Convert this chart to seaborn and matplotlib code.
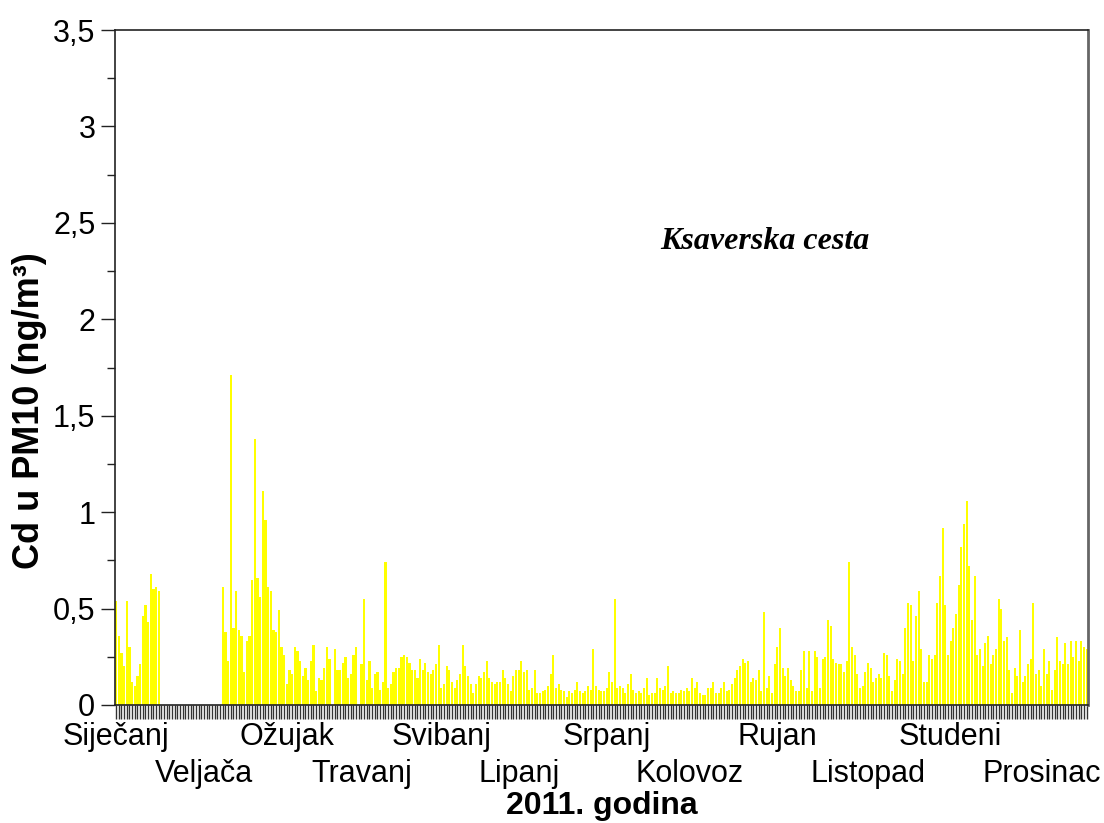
import numpy as np
import pandas as pd
import matplotlib.pyplot as plt
import seaborn as sns

# Dnevne koncentracije Cd u PM10 (ng/m3), Ksaverska cesta 2011. (None = nema mjerenja)
sijecanj = [0.54, 0.36, 0.27, 0.20, 0.54, 0.30, 0.12, 0.10, 0.15, 0.21, 0.46, 0.52, 0.43, 0.68, 0.60, 0.61, 0.59,
            None, None, None, None, None, None, None, None, None, None, None, None, None, None]
veljaca = [None, None, None, None, None, None, None, None, None,
           0.61, 0.38, 0.23, 1.71, 0.40, 0.59, 0.39, 0.36, 0.17, 0.33, 0.36, 0.65, 1.38, 0.66, 0.56, 1.11, 0.96, 0.61, 0.59]
ozujak = [0.39, 0.38, 0.49, 0.30, 0.26, 0.11, 0.18, 0.16, 0.30, 0.28, 0.23, 0.15, 0.19, 0.13, 0.23,
          0.31, 0.07, 0.14, 0.13, 0.19, 0.30, 0.24, 0.0, 0.29, 0.18, 0.18, 0.22, 0.25, 0.14, 0.16, 0.26]
travanj = [0.30, 0.0, 0.21, 0.55, 0.13, 0.23, 0.09, 0.16, 0.17, 0.08, 0.12, 0.74, 0.09, 0.11, 0.17, 0.19, 0.19, 0.25, 0.26, 0.25,
           0.22, 0.18, 0.18, 0.14, 0.24, 0.18, 0.22, 0.17, 0.16, 0.18]
svibanj = [0.21, 0.31, 0.09, 0.11, 0.20, 0.18, 0.12, 0.09, 0.13, 0.16, 0.31, 0.20, 0.15, 0.11, 0.06, 0.11, 0.15, 0.14,
           0.17, 0.23, 0.14, 0.12, 0.11, 0.12, 0.12, 0.18, 0.14, 0.11, 0.07, 0.15, 0.18]
lipanj = [0.18, 0.23, 0.17, 0.18, 0.08, 0.09, 0.18, 0.06, 0.06, 0.07, 0.08, 0.10, 0.16, 0.26, 0.09,
          0.11, 0.08, 0.07, 0.04, 0.07, 0.06, 0.08, 0.12, 0.07, 0.06, 0.07, 0.10, 0.08, 0.29, 0.10]
srpanj = [0.08, 0.07, 0.07, 0.09, 0.17, 0.12, 0.55, 0.09, 0.10, 0.09, 0.06, 0.11, 0.16, 0.08, 0.06, 0.07,
          0.06, 0.09, 0.14, 0.05, 0.06, 0.06, 0.14, 0.09, 0.08, 0.10, 0.20, 0.06, 0.07, 0.06, 0.06]
kolovoz = [0.08, 0.07, 0.09, 0.07, 0.14, 0.09, 0.12, 0.06, 0.05, 0.05, 0.09, 0.09, 0.12, 0.06, 0.06, 0.09,
           0.12, 0.07, 0.08, 0.11, 0.14, 0.18, 0.20, 0.24, 0.22, 0.23, 0.12, 0.14, 0.13, 0.18, 0.07]
rujan = [0.48, 0.09, 0.15, 0.06, 0.21, 0.30, 0.40, 0.19, 0.15, 0.19, 0.13, 0.10, 0.07, 0.07, 0.18,
         0.28, 0.09, 0.28, 0.07, 0.28, 0.25, 0.09, 0.24, 0.25, 0.44, 0.41, 0.24, 0.22, 0.21, 0.21]
listopad = [0.17, 0.23, 0.74, 0.30, 0.26, 0.16, 0.09, 0.10, 0.17, 0.22, 0.19, 0.12, 0.14, 0.16, 0.14, 0.27,
            0.26, 0.15, 0.07, 0.13, 0.24, 0.23, 0.16, 0.40, 0.53, 0.52, 0.23, 0.46, 0.59, 0.29, 0.12]
studeni = [0.12, 0.26, 0.24, 0.26, 0.53, 0.67, 0.92, 0.52, 0.26, 0.33, 0.40, 0.47, 0.62, 0.82, 0.94,
           1.06, 0.72, 0.44, 0.67, 0.26, 0.29, 0.20, 0.32, 0.36, 0.21, 0.26, 0.29, 0.55, 0.50, 0.33]
prosinac = [0.35, 0.18, 0.06, 0.19, 0.15, 0.39, 0.12, 0.15, 0.21, 0.24, 0.53, 0.16, 0.18, 0.10, 0.29, 0.16,
            0.23, 0.08, 0.18, 0.35, 0.23, 0.21, 0.32, 0.21, 0.33, 0.25, 0.33, 0.23, 0.33, 0.30, 0.29]

mjeseci = ["Siječanj", "Veljača", "Ožujak", "Travanj", "Svibanj", "Lipanj",
           "Srpanj", "Kolovoz", "Rujan", "Listopad", "Studeni", "Prosinac"]
y_oznake = ["0", "0,5", "1", "1,5", "2", "2,5", "3", "3,5"]

cd = (sijecanj + veljaca + ozujak + travanj + svibanj + lipanj
      + srpanj + kolovoz + rujan + listopad + studeni + prosinac)
df = pd.DataFrame({"dan": range(len(cd)), "cd": pd.array(cd, dtype="Float64").astype(float)})

sns.set_style("ticks")
plt.rcParams["font.family"] = ["Liberation Sans", "DejaVu Sans"]
plt.rcParams["text.color"] = "black"
plt.rcParams["axes.labelcolor"] = "black"
plt.rcParams["xtick.color"] = "black"
plt.rcParams["ytick.color"] = "black"

fig = plt.figure(figsize=(11.04, 8.23), dpi=100)
ax = fig.add_axes([0.104, 0.1434, 0.8815, 0.8201])

sns.barplot(data=df, x="dan", y="cd", order=list(range(len(cd))), color="#FFFF00",
            saturation=1, width=0.8, errorbar=None, linewidth=0, ax=ax)

# oznake mjeseci u dva reda
pozicije = [0, 33, 64, 92, 122, 151, 184, 215, 248, 282, 313, 347]
ax.xaxis.remove_overlapping_locs = False
ax.set_xticks(pozicije[0::2])
ax.set_xticklabels(mjeseci[0::2], fontsize=22)
ax.set_xticks(np.arange(len(cd)), minor=True)
ax.tick_params(axis="x", which="major", length=0, pad=12)
ax.tick_params(axis="x", which="minor", length=10, width=1, color="#333333")
ax.set_xlim(-0.5, len(cd) - 0.5)

red2 = ax.secondary_xaxis("bottom")
red2.set_xticks(pozicije[1::2])
red2.set_xticklabels(mjeseci[1::2], fontsize=22)
red2.tick_params(axis="x", length=0, pad=39)
red2.spines["bottom"].set_visible(False)

ax.set_ylim(0, 3.5)
ax.set_yticks(np.arange(0, 3.51, 0.5))
ax.set_yticklabels(y_oznake, fontsize=22)
ax.set_yticks(np.arange(0.25, 3.5, 0.5), minor=True)
ax.tick_params(axis="y", which="major", length=10, width=1, color="#222222", pad=4)
ax.tick_params(axis="y", which="minor", length=6, width=1, color="#222222")

for s in ax.spines.values():
    s.set_visible(True)
    s.set_color("#222222")
    s.set_linewidth(1.2)
ax.spines["right"].set_color("#666666")
ax.spines["right"].set_linewidth(2)

ax.set_xlabel("2011. godina", fontsize=23, fontweight="bold", va="top")
ax.xaxis.set_label_coords(0.5, -0.127)
ax.set_ylabel("Cd u PM10 (ng/m³)", fontsize=26, fontweight="bold", va="center")
ax.yaxis.set_label_coords(-0.088, 0.436)

ax.text(0.668, 0.687, "Ksaverska cesta", transform=ax.transAxes, ha="center", va="center",
        fontsize=23, fontweight="bold", fontstyle="italic", family=["Liberation Serif", "DejaVu Serif"])

plt.savefig("out.png", dpi=100)
